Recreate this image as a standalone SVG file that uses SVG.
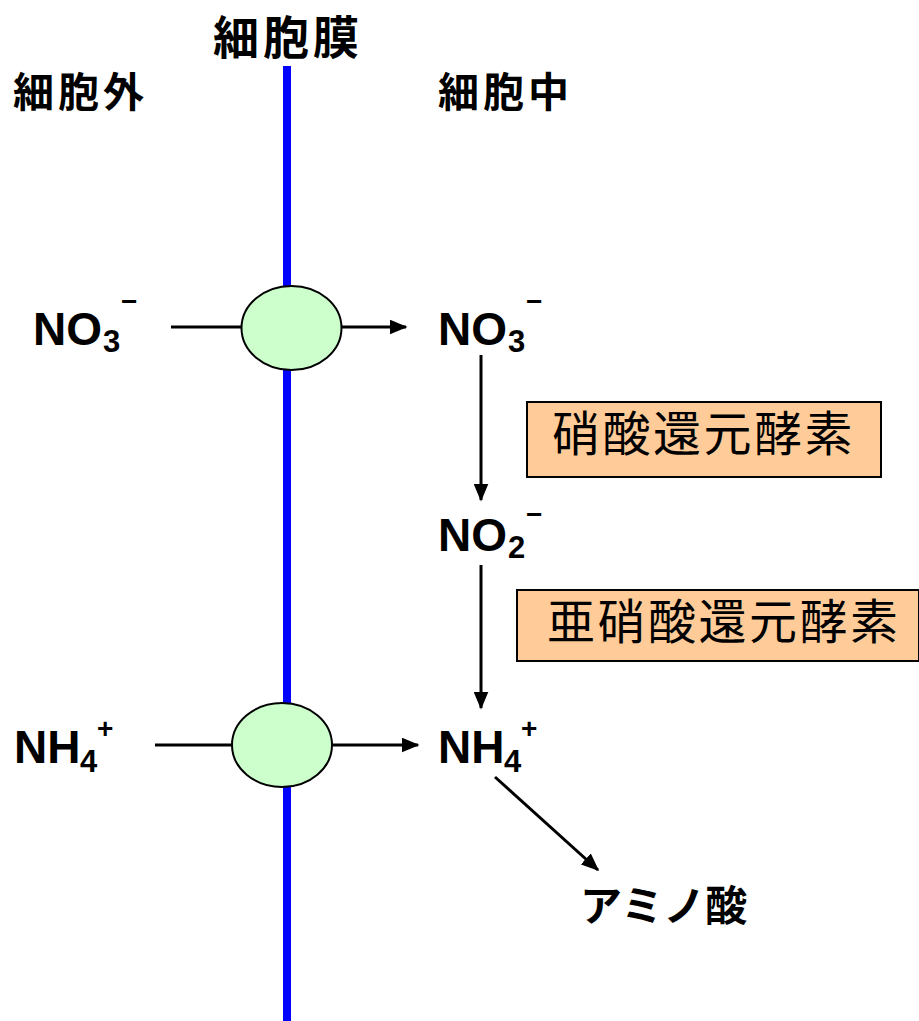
<svg xmlns="http://www.w3.org/2000/svg" width="919" height="1021" viewBox="0 0 919 1021">
<style>
.jp{font-family:"Noto Sans CJK JP","Noto Sans CJK SC",sans-serif;font-weight:bold;fill:#000}
.enz{font-family:"Noto Sans CJK JP","Noto Sans CJK SC",sans-serif;font-weight:normal;fill:#000;font-size:48px;letter-spacing:2.5px}
.chem{font-family:"Liberation Sans",Arial,sans-serif;font-weight:bold;fill:#000;font-size:46px}
.sub{font-family:"Liberation Sans",Arial,sans-serif;font-weight:bold;fill:#000;font-size:31px}
.sup{font-family:"Liberation Sans",Arial,sans-serif;font-weight:bold;fill:#000;font-size:28px}
.ln{stroke:#000;stroke-width:3;fill:none}
.ch{fill:#CCFFCC;stroke:#000;stroke-width:2}
.box{fill:#FFCC99;stroke:#000;stroke-width:2}
</style>
<defs>
<marker id="ah" markerWidth="6" markerHeight="5" refX="5.5" refY="2.5" orient="auto" markerUnits="strokeWidth">
<path d="M0,0 L6,2.5 L0,5 z" fill="#000"/>
</marker>
</defs>
<g id="membrane"><line x1="287" y1="66" x2="287" y2="1021" stroke="#0000FF" stroke-width="8"/></g>
<g id="labels">
<text class="jp" x="213" y="54" font-size="46" letter-spacing="4">細胞膜</text>
<text class="jp" x="13" y="107" font-size="41" letter-spacing="4">細胞外</text>
<text class="jp" x="438" y="107" font-size="41" letter-spacing="4">細胞中</text>
</g>
<g id="connectors">
<line class="ln" x1="171" y1="327" x2="242" y2="327"/>
<line class="ln" x1="342" y1="327" x2="406" y2="327" marker-end="url(#ah)"/>
<line class="ln" x1="155" y1="745" x2="232" y2="745"/>
<line class="ln" x1="332" y1="745" x2="418" y2="745" marker-end="url(#ah)"/>
<line class="ln" x1="481" y1="355" x2="481" y2="500" marker-end="url(#ah)"/>
<line class="ln" x1="481" y1="565" x2="481" y2="708" marker-end="url(#ah)"/>
<line class="ln" x1="495" y1="777" x2="598" y2="870" marker-end="url(#ah)"/>
</g>
<g id="channel1"><ellipse class="ch" cx="291.5" cy="328" rx="50" ry="42"/></g>
<g id="channel2"><ellipse class="ch" cx="282" cy="745" rx="50" ry="42"/></g>
<g id="no3-out">
<text class="chem" x="33" y="345">NO</text><text class="sub" x="103" y="352">3</text><text class="sup" x="121" y="311">−</text>
</g>
<g id="no3-in">
<text class="chem" x="438" y="345">NO</text><text class="sub" x="508" y="352">3</text><text class="sup" x="526" y="311">−</text>
</g>
<g id="no2">
<text class="chem" x="438" y="551">NO</text><text class="sub" x="508" y="558">2</text><text class="sup" x="526" y="524">−</text>
</g>
<g id="nh4-out">
<text class="chem" x="14" y="763">NH</text><text class="sub" x="80" y="772">4</text><text class="sup" x="97" y="738">+</text>
</g>
<g id="nh4-in">
<text class="chem" x="438" y="763">NH</text><text class="sub" x="504" y="772">4</text><text class="sup" x="521" y="738">+</text>
</g>
<g id="enzyme1">
<rect class="box" x="527" y="402" width="354" height="75"/>
<text class="enz" x="552" y="451">硝酸還元酵素</text>
</g>
<g id="enzyme2">
<rect class="box" x="517" y="590" width="402" height="71"/>
<text class="enz" x="547" y="639">亜硝酸還元酵素</text>
</g>
<g id="amino">
<text class="jp" x="580" y="921" font-size="42">アミノ酸</text>
</g>
</svg>
